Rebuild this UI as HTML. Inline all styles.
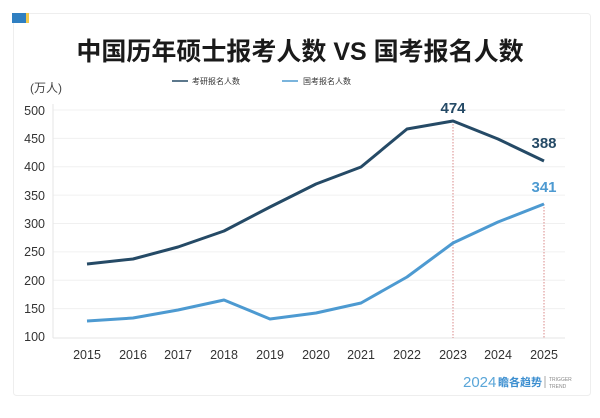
<!DOCTYPE html>
<html><head><meta charset="utf-8"><style>
body{margin:0;background:#fff;width:600px;height:418px;overflow:hidden;font-family:"Liberation Sans","Noto Sans CJK SC",sans-serif}
</style></head><body>
<svg width="600" height="418" xmlns="http://www.w3.org/2000/svg" style="position:absolute;left:0;top:0">
<rect x="13.5" y="13.5" width="577" height="382" rx="3" fill="#fff" stroke="#eee"/>
<rect x="12" y="13" width="14" height="10" fill="#2f7fc1"/><rect x="26" y="13" width="3" height="10" fill="#f2c94c"/>
<text x="300" y="60" text-anchor="middle" font-size="25" font-weight="bold" fill="#1a1a1a" font-family="Liberation Sans,Noto Sans CJK SC,sans-serif">中国历年硕士报考人数 VS 国考报名人数</text>
<line x1="172" y1="81" x2="188" y2="81" stroke="#254a66" stroke-width="1.5"/>
<text x="192" y="84" font-size="8" fill="#333">考研报名人数</text>
<line x1="282" y1="81" x2="298" y2="81" stroke="#4d9ad1" stroke-width="1.5"/>
<text x="303" y="84" font-size="8" fill="#333">国考报名人数</text>
<text x="30" y="92" font-size="12" fill="#444">(万人)</text>
<g stroke="#f0f0f0" stroke-width="1">
<line x1="53" y1="110" x2="565" y2="110"/><line x1="53" y1="138.4" x2="565" y2="138.4"/><line x1="53" y1="166.8" x2="565" y2="166.8"/><line x1="53" y1="195.1" x2="565" y2="195.1"/><line x1="53" y1="223.5" x2="565" y2="223.5"/><line x1="53" y1="251.9" x2="565" y2="251.9"/><line x1="53" y1="280.3" x2="565" y2="280.3"/><line x1="53" y1="308.6" x2="565" y2="308.6"/>
</g>
<line x1="53" y1="104" x2="53" y2="338" stroke="#e6e6e6"/>
<line x1="53" y1="338" x2="565" y2="338" stroke="#e6e6e6"/>
<g font-size="12.5" fill="#333" text-anchor="end">
<text x="45" y="115">500</text><text x="45" y="143">450</text><text x="45" y="171">400</text><text x="45" y="200">350</text><text x="45" y="228">300</text><text x="45" y="256">250</text><text x="45" y="285">200</text><text x="45" y="313">150</text><text x="45" y="341">100</text>
</g>
<g font-size="12.5" fill="#333" text-anchor="middle">
<text x="87" y="359">2015</text><text x="133" y="359">2016</text><text x="178" y="359">2017</text><text x="224" y="359">2018</text><text x="270" y="359">2019</text><text x="316" y="359">2020</text><text x="361" y="359">2021</text><text x="407" y="359">2022</text><text x="453" y="359">2023</text><text x="498" y="359">2024</text><text x="544" y="359">2025</text>
</g>
<line x1="453" y1="121" x2="453" y2="338" stroke="#d98a8a" stroke-width="1" stroke-dasharray="1.5,1.5"/>
<line x1="544" y1="204" x2="544" y2="338" stroke="#d98a8a" stroke-width="1" stroke-dasharray="1.5,1.5"/>
<polyline fill="none" stroke="#254a66" stroke-width="3" stroke-linejoin="round" points="87,264 133,259 178,247 224,231 270,207 316,184 361,167 407,129 453,121 498,139 544,161"/>
<polyline fill="none" stroke="#4d9ad1" stroke-width="3" stroke-linejoin="round" points="87,321 133,318 178,310 224,300 270,319 316,313 361,303 407,277 453,243 498,222 544,204"/>
<text x="453" y="113" text-anchor="middle" font-size="15" font-weight="bold" fill="#254a66">474</text>
<text x="544" y="148" text-anchor="middle" font-size="15" font-weight="bold" fill="#254a66">388</text>
<text x="544" y="192" text-anchor="middle" font-size="15" font-weight="bold" fill="#4d9ad1">341</text>
<text x="463" y="387" font-size="15" fill="#5aa6d8">2024</text>
<text x="498" y="386" font-size="11" font-weight="bold" fill="#3d8fd0">瞻各趋势</text>
<line x1="545" y1="376" x2="545" y2="388" stroke="#aaa"/>
<text x="549" y="381" font-size="5" fill="#888">TRIGGER</text><text x="549" y="388" font-size="5" fill="#888">TREND</text>
</svg>
</body></html>
